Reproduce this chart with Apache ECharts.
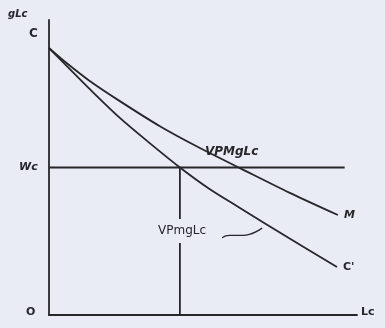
<!DOCTYPE html>
<html>
<head>
<meta charset="utf-8">
<script src="https://cdn.jsdelivr.net/npm/echarts@6/dist/echarts.min.js"></script>
<style>
  html, body { margin: 0; padding: 0; background: #e9ebf5; }
  #chart { width: 385px; height: 328px; }
</style>
</head>
<body>
<div id="chart"></div>
<script>
// curve readings (Lc on x, gLc on y), units 0..10
const vpmCurve = [[0, 9.05], [0.5, 8.6], [1.3, 7.95], [2.3, 7.25], [3.6, 6.4], [4.9, 5.66],
  [6.2, 4.98], [7.8, 4.15], [9.38, 3.39]]
const vpmgCurve = [[0, 9.05], [0.5, 8.52], [1.3, 7.68], [2.3, 6.68], [3.3, 5.8], [4.25, 5.0],
  [5.2, 4.28], [6.2, 3.63], [7.8, 2.6], [9.35, 1.63]]
const wageLevel = 5.0
const wageLineEnd = 9.6
const employment = 4.25
const pointer = [[5.62, 2.62], [5.85, 2.7], [6.3, 2.7], [6.92, 2.95]]

const ink = '#26262b'
const font = 'DejaVu Sans'

const chart = echarts.init(document.getElementById('chart'))

const lineStyle = { color: ink, width: 1.8 }

chart.setOption({
  backgroundColor: '#e9ebf5',
  animation: false,
  grid: { left: 49, right: 28, top: 20, bottom: 13 },
  xAxis: {
    type: 'value', min: 0, max: 10,
    axisLine: { lineStyle: { color: ink, width: 1.8 } },
    axisTick: { show: false }, axisLabel: { show: false }, splitLine: { show: false }
  },
  yAxis: {
    type: 'value', min: 0, max: 10,
    axisLine: { lineStyle: { color: ink, width: 1.8 } },
    axisTick: { show: false }, axisLabel: { show: false }, splitLine: { show: false }
  },
  series: [
    {
      name: 'VPMgLc', type: 'line', smooth: 0.3, symbol: 'none',
      lineStyle: lineStyle, data: vpmCurve,
      endLabel: { show: true, formatter: 'M', color: ink, fontFamily: font, fontWeight: 'bold', fontStyle: 'italic', fontSize: 11, distance: 6 }
    },
    {
      name: 'VPmgLc', type: 'line', smooth: 0.3, symbol: 'none',
      lineStyle: lineStyle, data: vpmgCurve,
      endLabel: { show: true, formatter: "C'", color: ink, fontFamily: font, fontWeight: 'bold', fontSize: 11, distance: 6 }
    },
    {
      name: 'Wc', type: 'line', symbol: 'none', lineStyle: lineStyle,
      data: [[0, wageLevel], [wageLineEnd, wageLevel]]
    },
    {
      name: 'Lc*', type: 'line', symbol: 'none', lineStyle: lineStyle, z: 1,
      data: [[employment, 0], [employment, wageLevel]]
    },
    {
      name: 'pointer', type: 'line', smooth: true, symbol: 'none',
      lineStyle: { color: ink, width: 1.4 }, data: pointer
    }
  ],
  graphic: [
    { type: 'text', left: 8, top: 9, style: { text: 'gLc', font: 'italic bold 10px DejaVu Sans', fill: ink } },
    { type: 'text', left: 29, top: 28, style: { text: 'C', font: 'bold 12px DejaVu Sans', fill: ink } },
    { type: 'text', left: 19, top: 162, style: { text: 'Wc', font: 'italic bold 11px DejaVu Sans', fill: ink } },
    { type: 'text', left: 26, top: 307, style: { text: 'O', font: 'bold 11px DejaVu Sans', fill: ink } },
    { type: 'text', left: 361, top: 307, style: { text: 'Lc', font: 'bold 11px DejaVu Sans', fill: ink } },
    { type: 'text', left: 205, top: 146, style: { text: 'VPMgLc', font: 'italic bold 12px DejaVu Sans', fill: ink } },
    {
      type: 'text', left: 156, top: 219, z: 10,
      style: { text: 'VPmgLc', font: '12px DejaVu Sans', fill: ink, backgroundColor: '#e9ebf5', padding: [6, 2, 6, 2] }
    }
  ]
})
</script>
</body>
</html>
